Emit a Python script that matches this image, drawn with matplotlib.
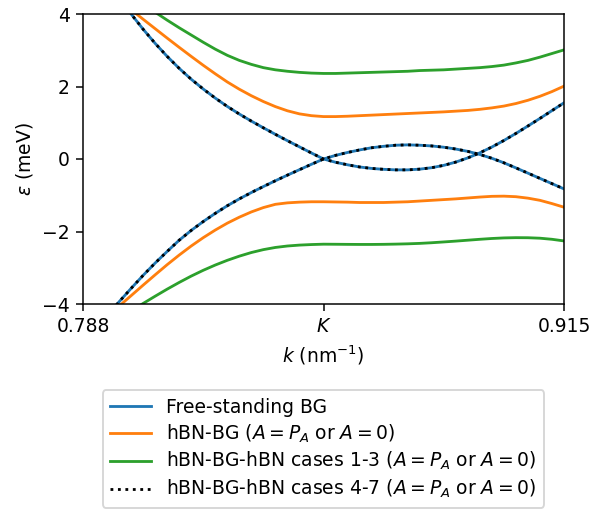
import numpy as np
import matplotlib
matplotlib.use("Agg")
import matplotlib.pyplot as plt

# k grid (nm^-1), K sits in the middle
k = [0.788, 0.791175, 0.79435, 0.797525, 0.8007, 0.803875, 0.80705, 0.810225,
     0.8134, 0.816575, 0.81975, 0.822925, 0.8261, 0.829275, 0.83245, 0.835625,
     0.8388, 0.841975, 0.84515, 0.848325, 0.8515, 0.854675, 0.85785, 0.861025,
     0.8642, 0.867375, 0.87055, 0.873725, 0.8769, 0.880075, 0.88325, 0.886425,
     0.8896, 0.892775, 0.89595, 0.899125, 0.9023, 0.905475, 0.90865, 0.911825,
     0.915]
k_ticks = [0.788, 0.8515, 0.915]
k_ticklabels = ['0.788', '$K$', '0.915']

# free-standing BG (two bands, meV)
bg_a = [5.8, 5.32, 4.86, 4.42, 4.0, 3.58, 3.19, 2.83, 2.50, 2.20, 1.93, 1.68,
        1.45, 1.24, 1.045, 0.86, 0.68, 0.505, 0.335, 0.165, 0.0,
        -0.09, -0.16, -0.22, -0.26, -0.285, -0.30, -0.30, -0.28, -0.24,
        -0.175, -0.085, 0.03, 0.17, 0.33, 0.51, 0.705, 0.91, 1.12, 1.335, 1.55]
bg_b = [-5.14, -4.73, -4.33, -3.94, -3.57, -3.21, -2.87, -2.55, -2.24, -1.97,
        -1.725, -1.50, -1.29, -1.10, -0.925, -0.76, -0.60, -0.445, -0.295,
        -0.145, 0.0, 0.10, 0.18, 0.25, 0.31, 0.35, 0.38, 0.39, 0.38, 0.36,
        0.325, 0.275, 0.21, 0.125, 0.02, -0.105, -0.245, -0.39, -0.535, -0.68,
        -0.825]

# hBN-BG
hbn_up = [5.2, 4.93, 4.66, 4.39, 4.12, 3.855, 3.595, 3.335, 3.08, 2.83, 2.585,
          2.35, 2.125, 1.925, 1.745, 1.585, 1.445, 1.33, 1.245, 1.195, 1.17,
          1.17, 1.18, 1.195, 1.21, 1.225, 1.24, 1.255, 1.27, 1.285, 1.30, 1.32,
          1.34, 1.37, 1.41, 1.46, 1.53, 1.62, 1.73, 1.86, 2.01]
hbn_dn = [-4.955, -4.655, -4.355, -4.06, -3.77, -3.48, -3.195, -2.915, -2.65,
          -2.40, -2.17, -1.96, -1.77, -1.605, -1.46, -1.34, -1.25, -1.21, -1.19,
          -1.18, -1.18, -1.185, -1.19, -1.2, -1.2, -1.2, -1.19, -1.18, -1.16,
          -1.14, -1.12, -1.1, -1.075, -1.05, -1.03, -1.025, -1.04, -1.08, -1.14,
          -1.23, -1.33]

# hBN-BG-hBN cases 1-3
sand_up = [5.4, 5.18, 4.96, 4.73, 4.5, 4.27, 4.05, 3.83, 3.62, 3.42, 3.22, 3.03,
           2.86, 2.72, 2.61, 2.52, 2.46, 2.42, 2.39, 2.37, 2.36, 2.36, 2.37,
           2.38, 2.39, 2.40, 2.41, 2.42, 2.44, 2.45, 2.46, 2.48, 2.50, 2.52,
           2.55, 2.59, 2.65, 2.72, 2.81, 2.91, 3.01]
sand_dn = [-5.105, -4.87, -4.64, -4.415, -4.195, -3.985, -3.785, -3.59, -3.405,
           -3.23, -3.07, -2.925, -2.795, -2.68, -2.58, -2.50, -2.44, -2.40,
           -2.375, -2.36, -2.35, -2.352, -2.355, -2.357, -2.357, -2.354, -2.348,
           -2.34, -2.328, -2.31, -2.288, -2.265, -2.24, -2.215, -2.193, -2.177,
           -2.17, -2.172, -2.185, -2.215, -2.26]

dpi = 135
fig = plt.figure(figsize=(603/dpi, 510/dpi), dpi=dpi)
ax = fig.add_axes([83/603, 1 - 304/510, 481/603, 290/510])

ax.plot(k, bg_a, color='C0', label='Free-standing BG')
ax.plot(k, bg_b, color='C0')
ax.plot(k, hbn_up, color='C1', label='hBN-BG ($A=P_A$ or $A=0$)')
ax.plot(k, hbn_dn, color='C1')
ax.plot(k, sand_up, color='C2', label='hBN-BG-hBN cases 1-3 ($A=P_A$ or $A=0$)')
ax.plot(k, sand_dn, color='C2')
ax.plot(k, bg_a, color='k', ls=':', label='hBN-BG-hBN cases 4-7 ($A=P_A$ or $A=0$)')
ax.plot(k, bg_b, color='k', ls=':')

ax.set_xlim(0.788, 0.915)
ax.set_ylim(-4, 4)
ax.set_xticks(k_ticks)
ax.set_xticklabels(k_ticklabels)
ax.set_yticks([-4, -2, 0, 2, 4])
ax.set_xlabel('$k$ (nm$^{-1}$)')
ax.set_ylabel(r'$\varepsilon$ (meV)')

ax.legend(loc='upper center', bbox_to_anchor=(0.5, -0.297), borderaxespad=0,
          labelspacing=0.3, handlelength=2.2)

fig.savefig('out.png', dpi=dpi)
